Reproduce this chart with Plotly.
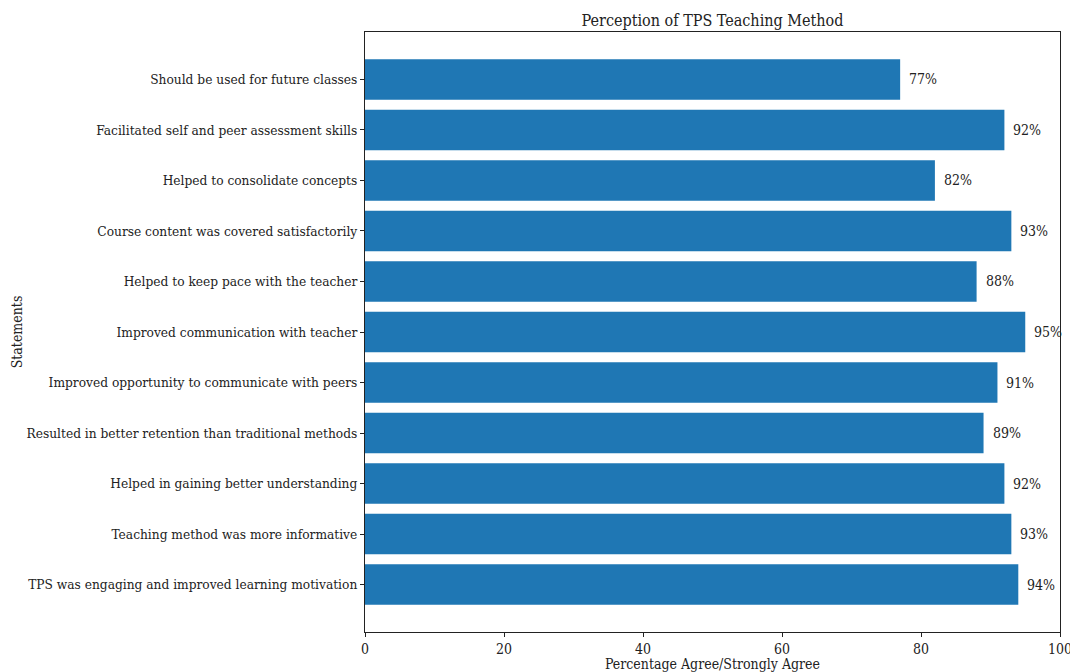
import plotly.graph_objects as go

statements = [
    "TPS was engaging and improved learning motivation",
    "Teaching method was more informative",
    "Helped in gaining better understanding",
    "Resulted in better retention than traditional methods",
    "Improved opportunity to communicate with peers",
    "Improved communication with teacher",
    "Helped to keep pace with the teacher",
    "Course content was covered satisfactorily",
    "Helped to consolidate concepts",
    "Facilitated self and peer assessment skills",
    "Should be used for future classes",
]
percentages = [94, 93, 92, 89, 91, 95, 88, 93, 82, 92, 77]

FONT = "DejaVu Serif Condensed, DejaVu Serif, serif"

fig = go.Figure()
fig.add_trace(go.Bar(
    x=percentages,
    y=list(range(len(statements))),
    orientation="h",
    width=0.8,
    marker=dict(color="#1f77b4", line=dict(width=0)),
    hoverinfo="skip",
))

for i, v in enumerate(percentages):
    fig.add_annotation(
        x=v + 1, y=i, text=f"{v}%", showarrow=False,
        xanchor="left", yanchor="middle",
        font=dict(family=FONT, size=14, color="#222"),
    )

fig.update_layout(
    width=1070, height=672,
    margin=dict(l=365, r=10, t=32, b=40, pad=0),
    paper_bgcolor="white", plot_bgcolor="white",
    showlegend=False,
    font=dict(family=FONT, size=14, color="#222"),
    title=dict(
        text="Perception of TPS Teaching Method",
        x=(365 + 1060) / 2 / 1070, xanchor="center",
        y=1 - 20 / 672, yanchor="middle",
        font=dict(family=FONT, size=16, color="#222"),
    ),
)

fig.update_xaxes(
    range=[0, 100], tickvals=[0, 20, 40, 60, 80, 100],
    ticks="outside", ticklen=4, tickwidth=1, tickcolor="#222",
    showline=True, linecolor="#222", linewidth=1, mirror=True,
    showgrid=False, zeroline=False, automargin=False,
    ticklabeloverflow="allow",
    title=dict(text="Percentage Agree/Strongly Agree", standoff=4,
               font=dict(family=FONT, size=14)),
    tickfont=dict(family=FONT, size=14),
)
fig.update_yaxes(
    range=[-0.94, len(statements) - 1 + 0.94],
    tickvals=list(range(len(statements))), ticktext=statements,
    ticks="outside", ticklen=4, tickwidth=1, tickcolor="#222",
    showline=True, linecolor="#222", linewidth=1, mirror=True,
    showgrid=False, zeroline=False, automargin=False,
    title=dict(text="Statements", standoff=0, font=dict(family=FONT, size=14)),
    tickfont=dict(family=FONT, size=13.6),
)

fig.write_html("out.html")
